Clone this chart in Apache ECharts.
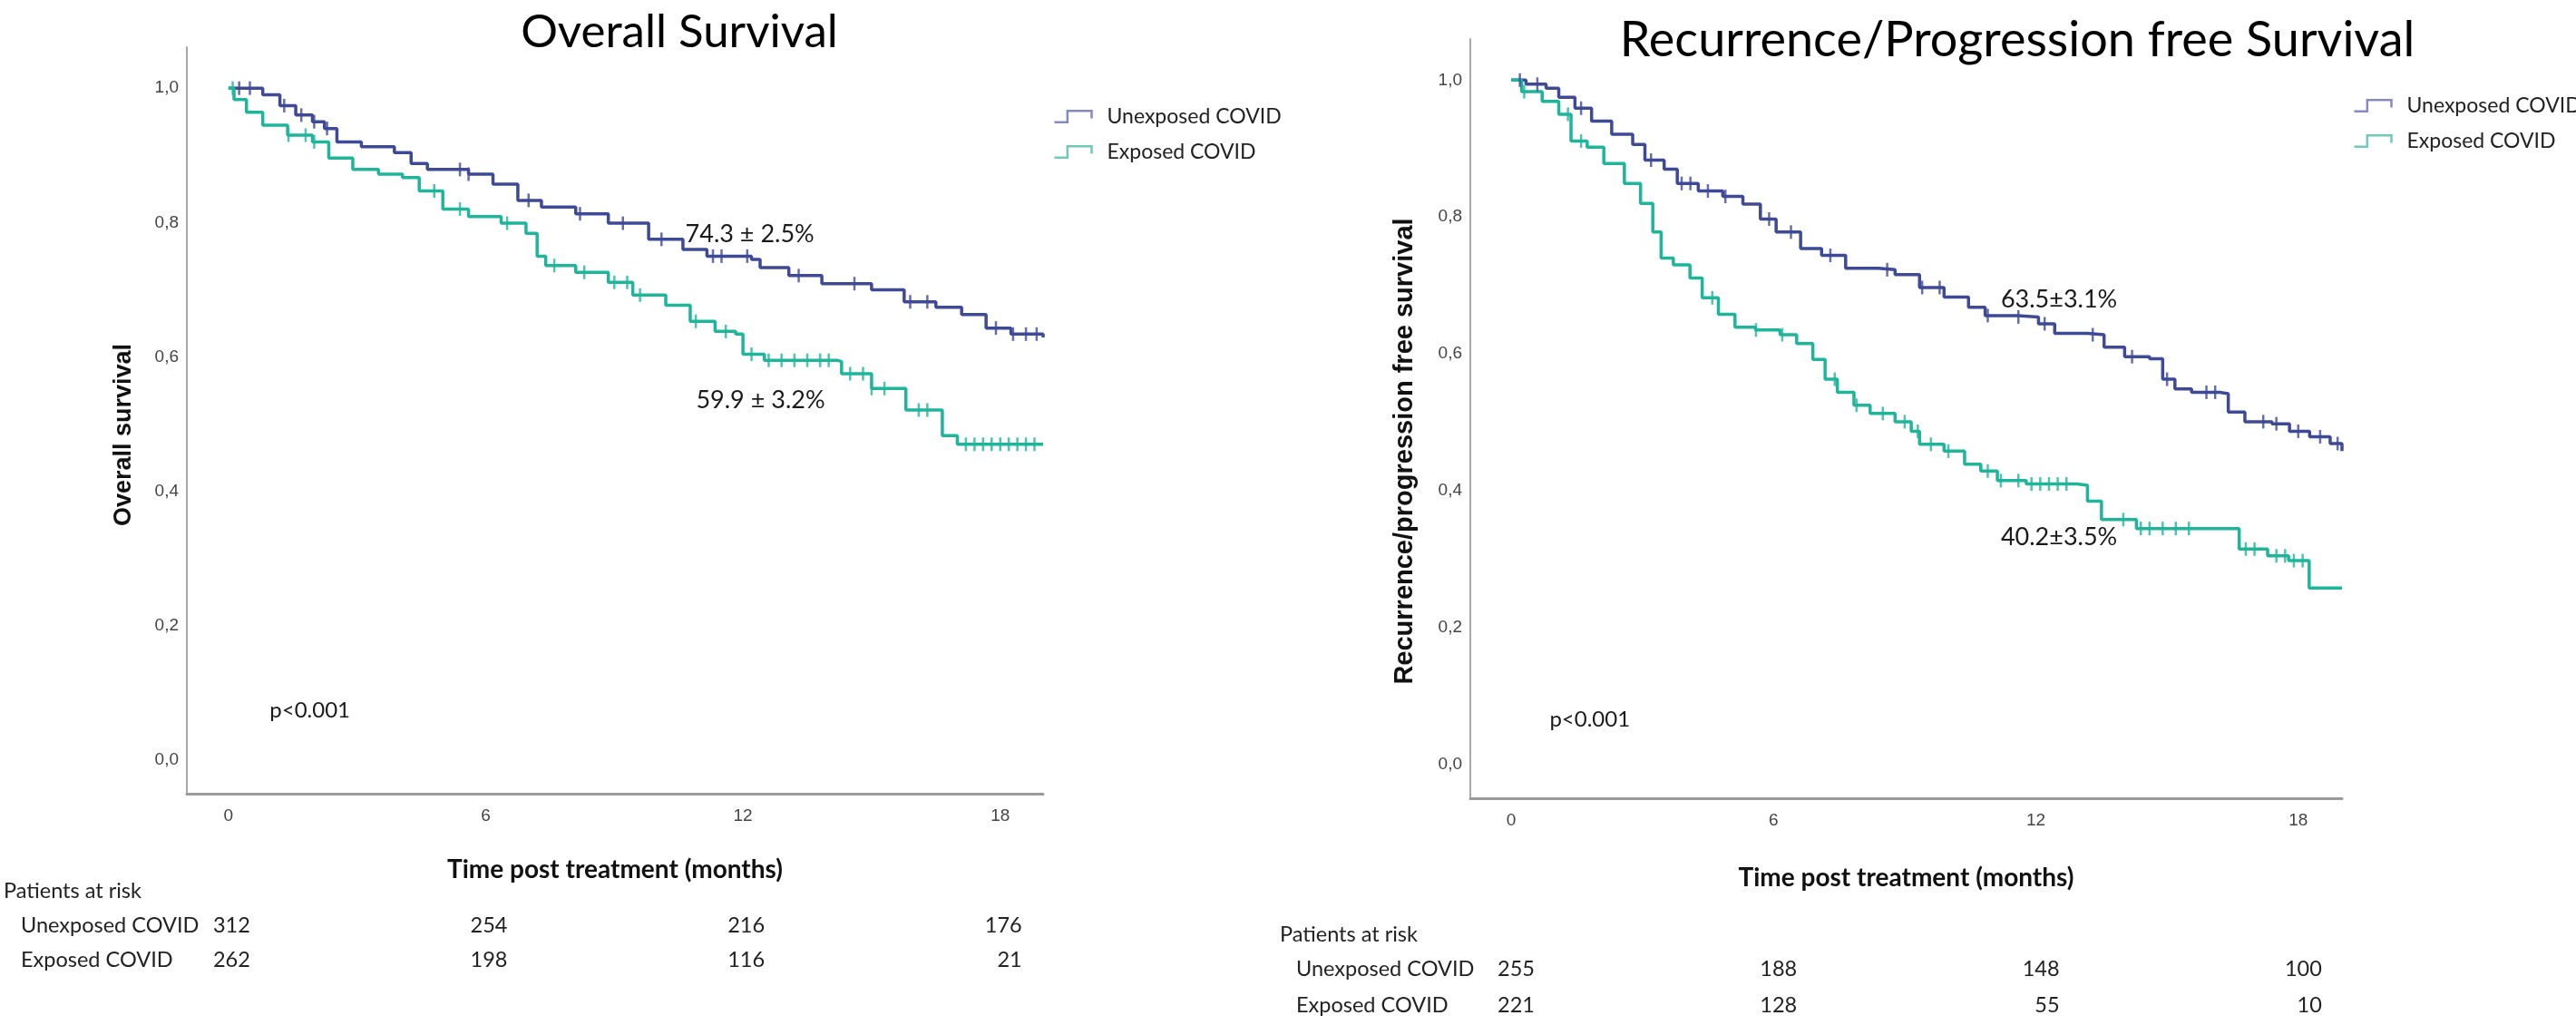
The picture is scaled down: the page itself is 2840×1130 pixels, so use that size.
<!DOCTYPE html>
<html><head><meta charset="utf-8">
<script src="https://cdn.jsdelivr.net/npm/echarts@6/dist/echarts.min.js"></script>
<style>html,body{margin:0;padding:0;background:#fff}#c{width:2840px;height:1130px}</style>
</head><body><div id="c"></div>
<script>
// ---------- DATA ----------
const xTickValues = [0, 6, 12, 18];
const yTickValues = [0, 0.2, 0.4, 0.6, 0.8, 1.0];
const groupNames = ['Unexposed COVID', 'Exposed COVID'];
const chartTitles = ['Overall Survival', 'Recurrence/Progression free Survival'];
const yAxisNames = ['Overall survival', 'Recurrence/progression free survival'];
const xAxisName = 'Time post treatment (months)';
const riskHeader = 'Patients at risk';

// Overall survival – unexposed
const osUnexpT = [0, 0.8, 1.2, 1.57, 1.96, 2.24, 2.53, 3.1, 3.87, 4.26, 4.64, 5.6, 6.17, 6.75, 7.3, 8.1, 8.86, 9.8, 10.6, 11.16, 12.2, 12.4, 13.07, 13.84, 15.0, 15.76, 16.5, 17.1, 17.67, 18.25, 19.0];
const osUnexpS = [1.0, 0.99, 0.974, 0.96, 0.95, 0.94, 0.92, 0.913, 0.904, 0.888, 0.879, 0.872, 0.857, 0.833, 0.823, 0.813, 0.799, 0.775, 0.76, 0.75, 0.745, 0.733, 0.721, 0.709, 0.70, 0.682, 0.674, 0.663, 0.643, 0.634, 0.629];
const osUnexpCens = [0.25, 0.5, 1.3, 1.7, 2.0, 2.3, 5.4, 5.6, 7.0, 8.2, 9.2, 10.1, 11.3, 11.5, 12.1, 13.3, 14.6, 15.9, 16.3, 17.9, 18.3, 18.6, 18.85];
// Overall survival – exposed
const osExpT = [0, 0.13, 0.42, 0.8, 1.38, 1.96, 2.34, 2.9, 3.5, 4.06, 4.45, 5.0, 5.6, 6.36, 6.94, 7.2, 7.4, 8.1, 8.86, 9.43, 10.2, 10.77, 11.35, 11.83, 12.0, 12.5, 14.2, 14.3, 15.0, 15.8, 16.65, 17.0, 19.0];
const osExpS = [1.0, 0.983, 0.964, 0.945, 0.93, 0.92, 0.896, 0.879, 0.872, 0.867, 0.847, 0.82, 0.809, 0.799, 0.784, 0.75, 0.736, 0.726, 0.711, 0.692, 0.677, 0.653, 0.638, 0.634, 0.604, 0.595, 0.593, 0.575, 0.553, 0.521, 0.483, 0.47, 0.47];
const osExpCens = [0.1, 1.4, 1.8, 2.0, 4.8, 5.4, 6.5, 7.6, 8.3, 9.0, 9.3, 9.6, 10.9, 11.6, 12.2, 12.6, 12.9, 13.2, 13.5, 13.8, 14.0, 14.5, 14.8, 15.0, 15.3, 16.1, 16.3, 17.2, 17.4, 17.6, 17.8, 18.0, 18.2, 18.4, 18.6, 18.8];
// Recurrence/progression free – unexposed
const rfsUnexpT = [0, 0.34, 0.8, 1.09, 1.46, 1.84, 2.3, 2.78, 3.06, 3.5, 3.8, 4.28, 4.84, 5.3, 5.7, 6.06, 6.62, 7.1, 7.65, 8.4, 8.78, 9.34, 9.9, 10.46, 10.84, 11.59, 12.06, 12.43, 13.18, 13.56, 14.03, 14.6, 14.9, 15.18, 15.56, 16.2, 16.4, 16.78, 17.4, 17.8, 18.26, 18.73, 19.0];
const rfsUnexpS = [1.0, 0.994, 0.988, 0.975, 0.959, 0.94, 0.921, 0.906, 0.883, 0.87, 0.849, 0.838, 0.83, 0.819, 0.797, 0.778, 0.754, 0.744, 0.725, 0.723, 0.716, 0.697, 0.683, 0.668, 0.656, 0.654, 0.644, 0.63, 0.628, 0.61, 0.596, 0.593, 0.563, 0.549, 0.544, 0.542, 0.515, 0.501, 0.498, 0.487, 0.479, 0.469, 0.458];
const rfsUnexpCens = [0.2, 0.6, 1.6, 3.2, 3.9, 4.1, 4.5, 4.9, 5.9, 6.4, 7.3, 8.6, 9.4, 9.8, 10.9, 11.6, 12.2, 13.3, 14.2, 15.0, 15.9, 16.1, 17.2, 17.5, 18.0, 18.5, 18.9];
// Recurrence/progression free – exposed
const rfsExpT = [0, 0.24, 0.71, 1.09, 1.37, 1.74, 2.12, 2.59, 2.96, 3.24, 3.43, 3.71, 4.09, 4.37, 4.74, 5.12, 5.59, 6.15, 6.53, 6.9, 7.18, 7.46, 7.84, 8.21, 8.78, 9.15, 9.34, 9.9, 10.37, 10.74, 11.12, 11.78, 12.94, 13.18, 13.5, 14.3, 16.65, 17.3, 17.78, 18.25, 19.0];
const rfsExpS = [1.0, 0.983, 0.969, 0.95, 0.911, 0.902, 0.878, 0.849, 0.82, 0.778, 0.74, 0.73, 0.711, 0.682, 0.658, 0.639, 0.635, 0.628, 0.615, 0.592, 0.563, 0.544, 0.525, 0.513, 0.501, 0.487, 0.468, 0.458, 0.439, 0.429, 0.415, 0.41, 0.408, 0.385, 0.358, 0.345, 0.315, 0.305, 0.298, 0.258, 0.258];
const rfsExpCens = [0.3, 1.3, 1.6, 4.6, 5.6, 6.2, 7.4, 7.9, 8.5, 9.0, 9.3, 9.6, 10.0, 10.9, 11.2, 11.6, 11.9, 12.1, 12.3, 12.5, 12.7, 14.0, 14.4, 14.6, 14.9, 15.2, 15.5, 16.8, 17.0, 17.5, 17.7, 17.9, 18.1];

// Patients at risk at months 0, 6, 12, 18
const riskOsUnexp = [312, 254, 216, 176];
const riskOsExp = [262, 198, 116, 21];
const riskRfsUnexp = [255, 188, 148, 100];
const riskRfsExp = [221, 128, 55, 10];

// Annotations: [month, value, text]
const osNotes = [[12.16, 0.783, '74.3 ± 2.5%'], [12.41, 0.536, '59.9 ± 3.2%'], [1.9, 0.074, 'p<0.001']];
const rfsNotes = [[12.53, 0.679, '63.5±3.1%'], [12.53, 0.332, '40.2±3.5%'], [1.8, 0.066, 'p<0.001']];

// ---------- STYLE ----------
const BLUE = '#3f4a97', GREEN = '#1fb59b';
const LEG_BLUE = '#8589c4', LEG_GREEN = '#6fcab9';
const SANS = 'Lato';
const ARIAL = 'Liberation Sans';

const zip = (t, s) => t.map((v, i) => [v, s[i]]);
const stepAt = (t, s, x) => { let v = s[0]; for (let i = 0; i < t.length; i++) { if (t[i] <= x) v = s[i]; } return v; };
const cens = (t, s, c) => c.map(x => [x, stepAt(t, s, x)]);

function kmLine(name, gi, t, s, color, notes) {
  const o = {
    type: 'line', name, xAxisIndex: gi, yAxisIndex: gi, step: 'end',
    data: zip(t, s), symbol: 'none', showSymbol: false,
    lineStyle: { color, width: 3.5 }, itemStyle: { color }, z: 3
  };
  if (notes) {
    o.markPoint = {
      symbol: 'circle', symbolSize: 0, silent: true,
      label: { show: true, position: 'inside', color: '#1a1a1a', fontFamily: SANS,
        formatter: p => p.data.txt },
      data: notes.map(n => ({ coord: [n[0], n[1]], txt: n[2],
        label: { fontSize: n[2].startsWith('p') ? 24 : 27 } }))
    };
  }
  return o;
}
function censor(name, gi, t, s, c, color) {
  return {
    type: 'scatter', name: name + ' censored', xAxisIndex: gi, yAxisIndex: gi,
    data: cens(t, s, c), symbol: 'rect', symbolSize: [2.5, 15],
    itemStyle: { color }, silent: true, z: 4
  };
}

const grids = [
  { left: 206, top: 52, width: 944, height: 823 },
  { left: 1621, top: 43, width: 961, height: 837 }
];
const xRanges = [[-0.97, 19.0], [-0.933, 19.0]];
const yRanges = [[-0.05, 1.061], [-0.049, 1.06]];

const legendCommon = {
  orient: 'vertical', itemWidth: 41, itemHeight: 16, itemGap: 16,
  icon: 'path://M0,14L14,14L14,2L40,2L40,10', selectedMode: false,
  textStyle: { fontFamily: SANS, fontSize: 23, color: '#222', padding: [0, 0, 0, 12] },
  data: [
    { name: groupNames[0], itemStyle: { color: 'none', borderColor: LEG_BLUE, borderWidth: 2.5 } },
    { name: groupNames[1], itemStyle: { color: 'none', borderColor: LEG_GREEN, borderWidth: 2.5 } }
  ]
};

const option = {
  animation: false,
  backgroundColor: '#ffffff',
  title: [
    { text: chartTitles[0], left: 744, top: 31, textAlign: 'center', textVerticalAlign: 'middle',
      textStyle: { fontFamily: SANS, fontWeight: 'normal', fontSize: 51, color: '#000' } },
    { text: chartTitles[1], left: 2219, top: 40, textAlign: 'center', textVerticalAlign: 'middle',
      textStyle: { fontFamily: SANS, fontWeight: 'normal', fontSize: 54, color: '#000' } }
  ],
  legend: [
    Object.assign({ left: 1155, top: 112 }, legendCommon),
    Object.assign({ left: 2588, top: 100 }, legendCommon)
  ],
  grid: grids,
  xAxis: [0, 1].map(i => ({
    type: 'value', gridIndex: i, min: xRanges[i][0], max: xRanges[i][1],
    name: xAxisName, nameLocation: 'middle', nameGap: i === 0 ? 70 : 74,
    nameTextStyle: { fontFamily: SANS, fontWeight: 'bold', fontSize: 28, color: '#111' },
    axisLine: { show: true, onZero: false, lineStyle: { color: '#9a9a9a', width: 3 } },
    axisTick: { show: false },
    splitLine: { show: false },
    axisLabel: { customValues: xTickValues, margin: 15, fontFamily: ARIAL, fontSize: 19, color: '#444' }
  })),
  yAxis: [0, 1].map(i => ({
    type: 'value', gridIndex: i, min: yRanges[i][0], max: yRanges[i][1],
    name: yAxisNames[i], nameLocation: 'middle', nameRotate: 90, nameGap: i === 0 ? 56 : 58,
    nameTextStyle: { fontFamily: ARIAL, fontWeight: 'bold', fontSize: i === 0 ? 27 : 29, color: '#111',
      padding: i === 0 ? [0, 32, 0, 0] : [0, 72, 0, 0] },
    axisLine: { show: true, onZero: false, lineStyle: { color: '#a8a8a8', width: 2 } },
    axisTick: { show: false },
    splitLine: { show: false },
    axisLabel: { customValues: yTickValues, margin: 9, fontFamily: ARIAL, fontSize: 19, color: '#444',
      formatter: v => v.toFixed(1).replace('.', ',') }
  })),
  series: [
    kmLine(groupNames[0], 0, osUnexpT, osUnexpS, BLUE, [osNotes[0], osNotes[2]]),
    kmLine(groupNames[1], 0, osExpT, osExpS, GREEN, [osNotes[1]]),
    kmLine(groupNames[0], 1, rfsUnexpT, rfsUnexpS, BLUE, [rfsNotes[0], rfsNotes[2]]),
    kmLine(groupNames[1], 1, rfsExpT, rfsExpS, GREEN, [rfsNotes[1]]),
    censor(groupNames[0], 0, osUnexpT, osUnexpS, osUnexpCens, BLUE),
    censor(groupNames[1], 0, osExpT, osExpS, osExpCens, GREEN),
    censor(groupNames[0], 1, rfsUnexpT, rfsUnexpS, rfsUnexpCens, BLUE),
    censor(groupNames[1], 1, rfsExpT, rfsExpS, rfsExpCens, GREEN)
  ]
};

const chart = echarts.init(document.getElementById('c'), null, { renderer: 'canvas' });
chart.setOption(option);

// Patients-at-risk tables, placed under the x-axis ticks
const tables = [
  { grid: 0, headerX: 4, headerY: 982, labelX: 23, rowY: [1020, 1058], rows: [riskOsUnexp, riskOsExp], off: 24 },
  { grid: 1, headerX: 1411, headerY: 1030, labelX: 1429, rowY: [1068, 1108], rows: [riskRfsUnexp, riskRfsExp], off: 26 }
];
const tstyle = (txt, align) => ({ text: txt, fontFamily: SANS, fontSize: 23.5, fill: '#222', textAlign: align, textVerticalAlign: 'middle' });
const elements = [];
tables.forEach(tb => {
  elements.push({ type: 'text', x: tb.headerX, y: tb.headerY, style: tstyle(riskHeader, 'left') });
  tb.rows.forEach((row, r) => {
    elements.push({ type: 'text', x: tb.labelX, y: tb.rowY[r], style: tstyle(groupNames[r], 'left') });
    row.forEach((n, k) => {
      const px = chart.convertToPixel({ gridIndex: tb.grid }, [xTickValues[k], 0])[0];
      elements.push({ type: 'text', x: px + tb.off, y: tb.rowY[r], style: tstyle(String(n), 'right') });
    });
  });
});
chart.setOption({ graphic: { elements } });
</script>
</body></html>
